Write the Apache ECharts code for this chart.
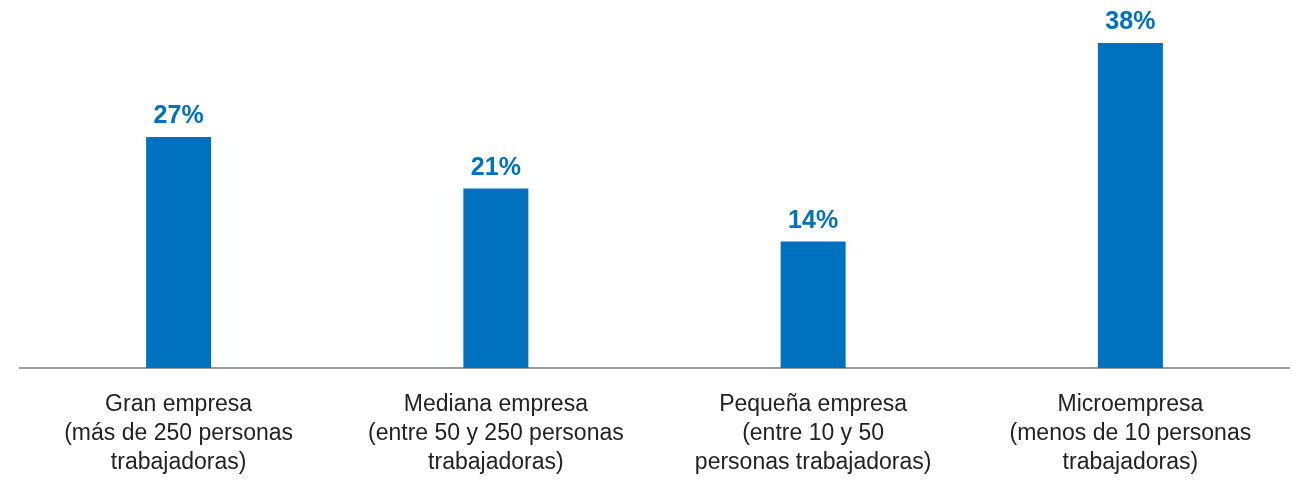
<!DOCTYPE html>
<html>
<head>
<meta charset="utf-8">
<script src="https://cdn.jsdelivr.net/npm/echarts@6/dist/echarts.min.js"></script>
<style>
  html, body { margin: 0; padding: 0; background: #fff; }
  #chart { width: 1293px; height: 480px; }
</style>
</head>
<body>
<div id="chart"></div>
<script>
const categories = [
  "Gran empresa\n(más de 250 personas\ntrabajadoras)",
  "Mediana empresa\n(entre 50 y 250 personas\ntrabajadoras)",
  "Pequeña empresa\n(entre 10 y 50\npersonas trabajadoras)",
  "Microempresa\n(menos de 10 personas\ntrabajadoras)"
];
const values = [27, 21, 14.8, 38];
const valueLabels = ["27%", "21%", "14%", "38%"];

const blue = "#0071bc";
const chart = echarts.init(document.getElementById("chart"));

chart.setOption({
  backgroundColor: "#fff",
  animation: false,
  grid: { left: 20, right: 4, top: 43, bottom: 112 },
  xAxis: {
    type: "category",
    data: categories,
    axisLine: { lineStyle: { color: "#999", width: 2 } },
    axisTick: { show: false },
    axisLabel: {
      interval: 0,
      margin: 22,
      color: "#222",
      fontFamily: "Liberation Sans",
      fontSize: 23,
      lineHeight: 29
    }
  },
  yAxis: {
    type: "value",
    min: 0,
    max: 38,
    show: false,
    splitLine: { show: false }
  },
  series: [
    {
      type: "bar",
      data: values,
      barWidth: 65,
      itemStyle: { color: blue },
      label: {
        show: true,
        position: "top",
        distance: 8,
        color: blue,
        fontFamily: "Liberation Sans",
        fontWeight: "bold",
        fontSize: 25,
        formatter: p => valueLabels[p.dataIndex]
      }
    }
  ]
});
</script>
</body>
</html>
